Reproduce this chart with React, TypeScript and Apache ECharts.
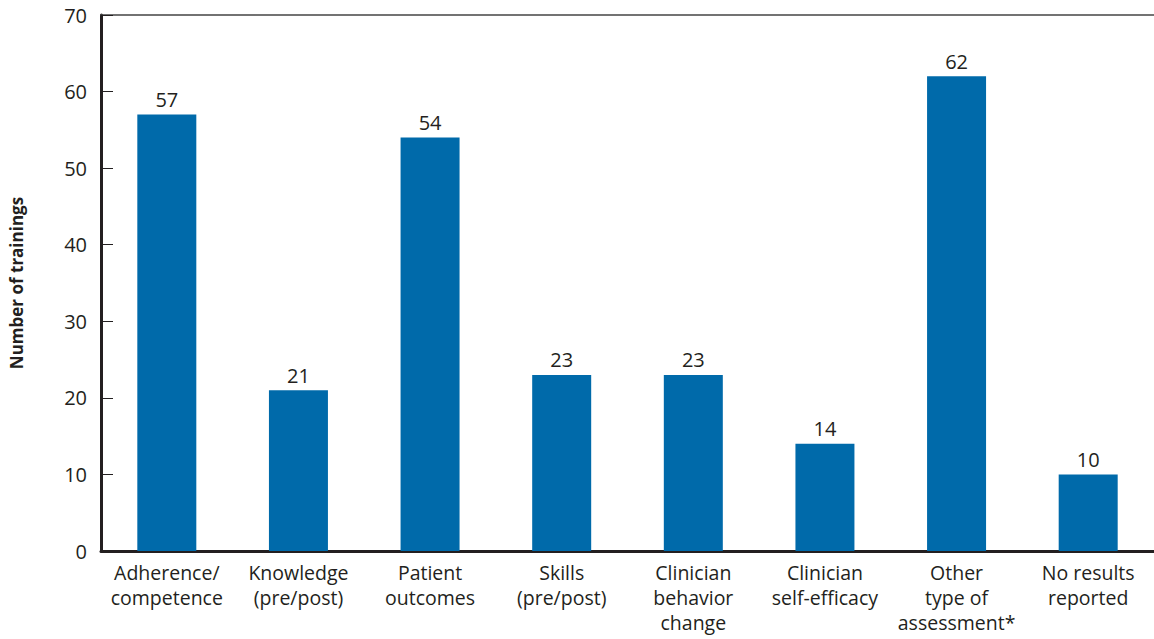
import React, { useEffect, useRef } from "react";
import * as echarts from "echarts";

const categories = [
  "Adherence/\ncompetence",
  "Knowledge\n(pre/post)",
  "Patient\noutcomes",
  "Skills\n(pre/post)",
  "Clinician\nbehavior\nchange",
  "Clinician\nself-efficacy",
  "Other\ntype of\nassessment*",
  "No results\nreported",
];
const values = [57, 21, 54, 23, 23, 14, 62, 10];
const yTitle = "Number of trainings";

const FONT = "'Open Sans', 'Noto Sans', sans-serif";
const TEXT = "#231f20";

export default function App() {
  const ref = useRef<HTMLDivElement>(null);
  useEffect(() => {
    if (!ref.current) return;
    const chart = echarts.init(ref.current, null, { renderer: "svg" });
    chart.setOption({
      animation: false,
      grid: { left: 96, right: 0, top: 15, bottom: 88, containLabel: false },
      xAxis: [
        {
          type: "category",
          data: categories,
          axisLine: { lineStyle: { color: TEXT, width: 3 } },
          axisTick: { show: false },
          axisLabel: {
            color: TEXT,
            fontFamily: FONT,
            fontSize: 19.5,
            lineHeight: 25,
            margin: 9,
            interval: 0,
          },
        },
        {
          type: "category",
          position: "top",
          data: categories,
          axisLine: { lineStyle: { color: "#444", width: 1.5 } },
          axisTick: { show: false },
          axisLabel: { show: false },
        },
      ],
      yAxis: {
        type: "value",
        min: 0,
        max: 70,
        interval: 10,
        name: yTitle,
        nameLocation: "middle",
        nameGap: 76,
        nameTextStyle: {
          color: TEXT,
          fontFamily: FONT,
          fontSize: 17,
          fontWeight: "bold",
        },
        axisLine: { show: true, lineStyle: { color: TEXT, width: 3 } },
        axisTick: { show: true, inside: true, length: 12, lineStyle: { color: TEXT, width: 1 } },
        splitLine: { show: false },
        axisLabel: {
          color: TEXT,
          fontFamily: FONT,
          fontSize: 20,
          margin: 14,
        },
      },
      series: [
        {
          type: "bar",
          data: values,
          xAxisIndex: 0,
          barWidth: 59,
          itemStyle: { color: "#006aaa" },
          label: {
            show: true,
            position: "top",
            distance: 5,
            color: TEXT,
            fontFamily: FONT,
            fontSize: 20,
          },
        },
      ],
    });
    return () => chart.dispose();
  }, []);
  return (
    <div
      ref={ref}
      style={{ position: "fixed", left: 0, top: 0, width: 1154, height: 639, background: "#fff" }}
    />
  );
}
